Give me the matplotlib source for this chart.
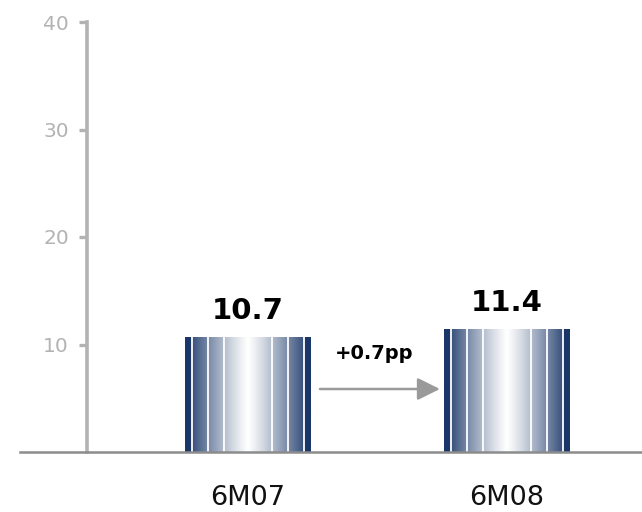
import numpy as np
import matplotlib
matplotlib.use("Agg")
import matplotlib.pyplot as plt
from matplotlib.colors import to_rgb

categories = ["6M07", "6M08"]
values = [10.7, 11.4]
value_labels = ["10.7", "11.4"]
change_label = "+0.7pp"
yticks = [10, 20, 30, 40]

NAVY = "#1a3769"
AXIS_GREY = "#b3b3b3"
BASE_GREY = "#8c8c8c"
ARROW_GREY = "#9a9a9a"

fig = plt.figure(figsize=(6.42, 5.12), dpi=100)
ax = fig.add_axes([20 / 642, 60 / 512, 622 / 642, 430 / 512])

x = np.arange(len(categories))
width = 0.486
bars = ax.bar(x, values, width=width, color=NAVY, zorder=2)


def shaded(n=400):
    """Horizontal navy-white-navy ramp used to fill each bar."""
    u = np.linspace(0, 1, n)
    d = np.abs(u - 0.5) / 0.5
    t = d ** 1.15
    t[(u < 0.055) | (u > 0.945)] = 1.0
    navy = np.array(to_rgb(NAVY))
    rgb = (1 - t)[:, None] * 1.0 + t[:, None] * navy[None, :]
    return rgb[None, :, :]


grad = shaded()
stripes = 0.5 + np.array([-3.5, -2.5, -1.5, 1.5, 2.5, 3.5]) * 0.127
for rect, v in zip(bars, values):
    x0 = rect.get_x()
    im = ax.imshow(grad, extent=[x0, x0 + width, 0, v], aspect="auto",
                   interpolation="bilinear", zorder=3)
    im.set_clip_path(rect)
    ax.vlines(x0 + stripes * width, 0, v, color="white", lw=1.3, zorder=4)

for xi, v, lab in zip(x, values, value_labels):
    ax.annotate(lab, (xi, v), xytext=(0, 13), textcoords="offset points",
                ha="center", va="baseline", fontsize=21, fontweight="bold",
                color="black")

# change arrow between the two periods
ax.annotate("", xy=(0.741, 5.86), xytext=(0.278, 5.86),
            arrowprops=dict(arrowstyle="-|>,head_length=1.37,head_width=0.68",
                            mutation_scale=10, color=ARROW_GREY, lw=1.8,
                            shrinkA=0, shrinkB=0))
ax.text(0.486, 9.2, change_label, ha="center", va="center",
        fontsize=14, fontweight="bold", color="black")

ax.set_xlim(-0.880, 1.521)
ax.set_ylim(0, 40)

for side in ("top", "right"):
    ax.spines[side].set_visible(False)
ax.spines["left"].set_position(("data", -0.622))
ax.spines["left"].set_color(AXIS_GREY)
ax.spines["left"].set_linewidth(2.6)
ax.spines["bottom"].set_color(BASE_GREY)
ax.spines["bottom"].set_linewidth(1.8)
ax.spines["bottom"].set_zorder(5)

ax.set_yticks(yticks)
ax.tick_params(axis="y", length=6, width=2.4, color=AXIS_GREY,
               labelcolor=AXIS_GREY, labelsize=14.5, pad=7)
ax.set_xticks(x)
ax.set_xticklabels(categories)
ax.tick_params(axis="x", length=0, labelsize=19.5, labelcolor="#111111", pad=24)

fig.savefig("out.png", dpi=100)
